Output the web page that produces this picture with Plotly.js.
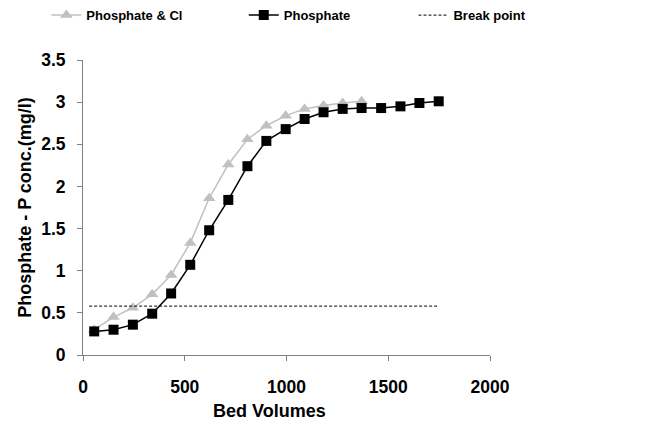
<!DOCTYPE html>
<html>
<head>
<meta charset="utf-8">
<script src="https://cdn.plot.ly/plotly-3.0.1.min.js"></script>
<style>html,body{margin:0;padding:0;background:#fff;}#chart{width:657px;height:423px;}</style>
</head>
<body>
<div id="chart"></div>
<script>
const bedVolumes = [55, 150, 245, 340, 433, 527, 620, 714, 808, 901, 996, 1089, 1182, 1276, 1369, 1465, 1560, 1653, 1748];
const phosphate = [0.28, 0.30, 0.36, 0.49, 0.73, 1.07, 1.48, 1.84, 2.24, 2.54, 2.68, 2.80, 2.88, 2.92, 2.93, 2.93, 2.95, 2.99, 3.01];
const bedVolumesCl = [55, 150, 245, 340, 433, 527, 620, 714, 808, 901, 996, 1089, 1182, 1276, 1369];
const phosphateCl = [0.30, 0.45, 0.56, 0.72, 0.95, 1.33, 1.86, 2.26, 2.56, 2.72, 2.84, 2.92, 2.96, 2.99, 3.01];
const breakX = [30, 900, 950, 1000, 1050, 1748];
const breakY = [0.58, 0.58, 0.585, 0.58, 0.58, 0.58];
const xTicks = [0, 500, 1000, 1500, 2000];
const yTicks = [0, 0.5, 1, 1.5, 2, 2.5, 3, 3.5];
const xTitle = 'Bed Volumes';
const yTitle = 'Phosphate - P conc.(mg/l)';

const fontFam = 'Arial, "Liberation Sans", sans-serif';

const traces = [
  {x: bedVolumesCl, y: phosphateCl, name: 'Phosphate & Cl', mode: 'lines+markers',
   line: {color: '#c0c0c0', width: 1.5}, marker: {symbol: 'triangle-up', size: 11, color: '#c0c0c0'}, legend: 'legend'},
  {x: bedVolumes, y: phosphate, name: 'Phosphate', mode: 'lines+markers',
   line: {color: '#000000', width: 1.5}, marker: {symbol: 'square', size: 10, color: '#000000'}, legend: 'legend2'},
  {x: breakX, y: breakY, name: 'Break point', mode: 'lines',
   line: {color: '#000000', width: 1, dash: '3px,2px'}, legend: 'legend3'}
];

const legFont = {family: fontFam, size: 13, color: '#000', weight: 'bold'};
const legBase = {orientation: 'h', yanchor: 'middle', xanchor: 'left', font: legFont, bgcolor: 'rgba(0,0,0,0)', itemwidth: 30};
const tickFont = {family: fontFam, size: 17.5, color: '#000', weight: 'bold'};
const titleFont = {family: fontFam, size: 18, color: '#000', weight: 'bold'};

const layout = {
  width: 657, height: 423,
  margin: {l: 83, r: 167, t: 60, b: 68, autoexpand: false},
  paper_bgcolor: '#fff', plot_bgcolor: '#fff',
  showlegend: true,
  legend: Object.assign({}, legBase, {x: -0.09, y: 1.152}),
  legend2: Object.assign({}, legBase, {x: 0.395, y: 1.152}),
  legend3: Object.assign({}, legBase, {x: 0.812, y: 1.152}),
  xaxis: {
    range: [0, 2000], tickvals: xTicks, ticktext: xTicks.map(String),
    showgrid: false, zeroline: false, showline: true, linecolor: '#808080', linewidth: 1,
    ticks: 'outside', ticklen: 5, tickcolor: '#808080', ticklabelstandoff: 11,
    tickfont: tickFont
  },
  yaxis: {
    range: [0, 3.5], tickvals: yTicks, ticktext: yTicks.map(String),
    showgrid: false, zeroline: false, showline: true, linecolor: '#808080', linewidth: 1,
    ticks: 'outside', ticklen: 5, tickcolor: '#808080', ticklabelstandoff: 8,
    tickfont: tickFont,
    title: {text: yTitle, font: titleFont, standoff: 4}
  },
  annotations: [
    {text: xTitle, xref: 'paper', yref: 'paper', x: (269.5 - 83) / 407, y: (355 - 411) / 295,
     xanchor: 'center', yanchor: 'middle', showarrow: false, font: titleFont}
  ]
};

Plotly.newPlot('chart', traces, layout, {displayModeBar: false, staticPlot: true});
</script>
</body>
</html>
